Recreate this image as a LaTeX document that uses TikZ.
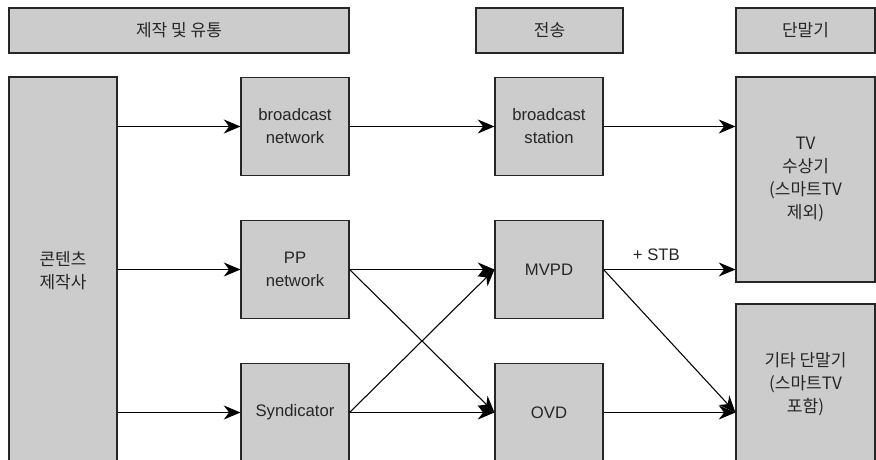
\documentclass[tikz,border=0pt]{standalone}
\usepackage{fontspec}
\setmainfont{Liberation Sans}
\newfontfamily\kr{Noto Sans CJK KR}
\usetikzlibrary{arrows.meta}
\tikzset{
  box/.style={draw=black!85, fill=black!20, line width=0.8pt, inner sep=0pt,
    align=center, text=black!85, font=\fontsize{12.5}{17.25}\selectfont},
  krbox/.style={box, font=\kr\fontsize{12.75}{17.25}\selectfont},
  headbox/.style={krbox, minimum height=33.75pt},
  midbox/.style={box, minimum width=81pt, minimum height=73.5pt},
  flow/.style={-{Stealth[length=12.5pt,width=10.5pt,inset=4pt]}, line width=0.8pt},
}
\begin{document}
\begin{tikzpicture}[x=0.75pt,y=-0.75pt]
\clip (0,0) rectangle (876,460);
\fill[white] (0,0) rectangle (876,460);

% column headers
\node[headbox, minimum width=255pt] (h1) at (179,30.5) {제작 및 유통};
\node[headbox, minimum width=110.25pt] (h2) at (549.5,30.5) {전송};
\node[headbox, minimum width=104.25pt] (h3) at (805.5,30.5) {단말기};

% producers
\node[krbox, minimum width=81pt, minimum height=291pt] (src) at (63,271) {콘텐츠\\제작사};

% distribution
\node[midbox] (bn) at (295,126.5) {broadcast\\network};
\node[midbox] (pp) at (295,269.5) {PP\\network};
\node[midbox] (syn) at (295,412.5) {Syndicator};

% transmission
\node[midbox] (bs) at (549,126.5) {broadcast\\station};
\node[midbox] (mvpd) at (549,269.5) {MVPD};
\node[midbox] (ovd) at (549,412.5) {OVD};

% devices
\node[krbox, minimum width=104.25pt, minimum height=153.75pt] (tv) at (805.5,179.5)
  {TV\\수상기\\(스마트TV\\제외)};
\node[krbox, minimum width=104.25pt, minimum height=120pt] (etc) at (805.5,384)
  {기타 단말기\\(스마트TV\\포함)};

% connectors
\draw[flow] (src.east |- bn.west) -- (bn.west);
\draw[flow] (src.east |- pp.west) -- (pp.west);
\draw[flow] (src.east |- syn.west) -- (syn.west);

\draw[flow] (bn.east) -- (bs.west);
\draw[flow] (pp.east) -- (mvpd.west);
\draw[flow] (pp.east) -- (ovd.west);
\draw[flow] (syn.east) -- (mvpd.west);
\draw[flow] (syn.east) -- (ovd.west);

\draw[flow] (bs.east) -- (tv.west |- bs.east);
\draw[flow] (mvpd.east) -- node[pos=0.4, above=3pt, font=\fontsize{12.5}{14}\selectfont, text=black!85] {+ STB} (tv.west |- mvpd.east);
\draw[flow] (mvpd.east) -- (etc.west |- ovd.east);
\draw[flow] (ovd.east) -- (etc.west |- ovd.east);
\end{tikzpicture}
\end{document}
